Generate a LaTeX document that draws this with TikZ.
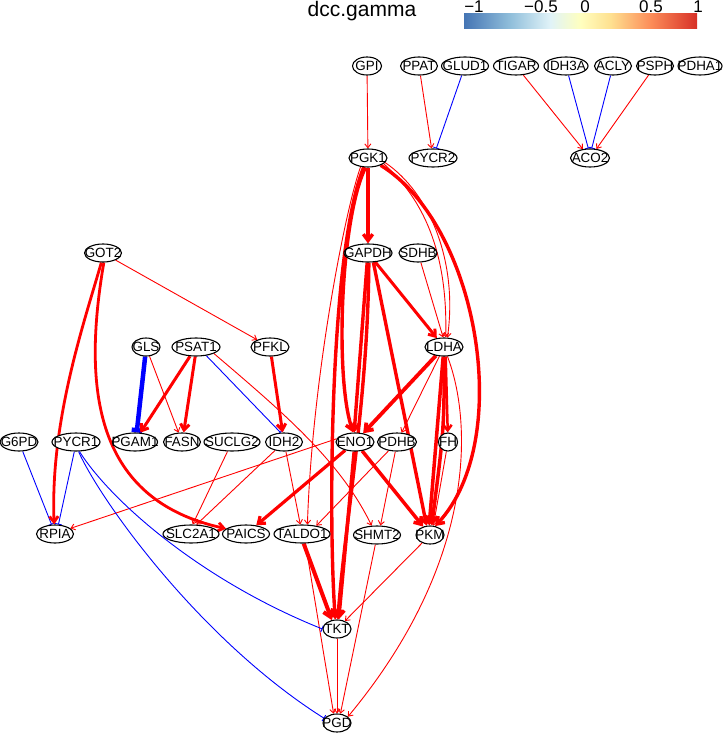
\documentclass[tikz,border=0pt]{standalone}
\usepackage{fontspec}
\setmainfont{Liberation Sans}
\usetikzlibrary{shapes.geometric,arrows.meta}
\pgfdeclarelayer{bg}
\pgfsetlayers{bg,main}
\definecolor{cbA}{RGB}{69,117,180}
\definecolor{cbB}{RGB}{145,191,219}
\definecolor{cbC}{RGB}{224,243,248}
\definecolor{cbD}{RGB}{255,255,191}
\definecolor{cbE}{RGB}{254,224,144}
\definecolor{cbF}{RGB}{252,141,89}
\definecolor{cbG}{RGB}{215,48,39}
\pgfdeclarehorizontalshading{cbar}{100bp}{color(0bp)=(cbA); color(25bp)=(cbA); color(35bp)=(cbB); color(43.5bp)=(cbC); color(50bp)=(cbD); color(56.5bp)=(cbE); color(65bp)=(cbF); color(75bp)=(cbG); color(100bp)=(cbG)}
\newcommand\glab[1]{\makebox[0pt]{#1}}
\tikzset{
  gn/.style={ellipse, draw=black, line width=1.1pt, fill=white, inner sep=0pt,
    minimum height=18pt, minimum width=#1, text height=9.6pt, text depth=0pt,
    font=\fontsize{13.4}{15}\selectfont},
  act/.style={red, line width=#1, -{Straight Barb[length=3pt 1.0, width=5pt 1.3]}},
  act/.default=0.9pt,
  inh/.style={blue, line width=#1, -{Bar[width=6pt 1.0]}},
  inh/.default=0.9pt,
  tick/.style={anchor=base, inner sep=0pt, font=\fontsize{17}{20}\selectfont}
}
\begin{document}
\begin{tikzpicture}[x=1pt,y=-1pt]
\useasboundingbox (0,0) rectangle (725,733);
% colour bar
\shade[shading=cbar] (464,14) rectangle (697,29);
\node[anchor=base, inner sep=0pt, font=\fontsize{21}{24}\selectfont] (title) at (362,17) {dcc.gamma};
\node[tick] (t1) at (474,13) {−1};
\node[tick] (t2) at (541,13) {−0.5};
\node[tick] (t3) at (585,13) {0};
\node[tick] (t4) at (651,13) {0.5};
\node[tick] (t5) at (698,13) {1};
% nodes
\node[gn=29pt] (GPI) at (367,66) {\glab{GPI}};
\node[gn=37pt] (PPAT) at (419,66) {\glab{PPAT}};
\node[gn=47pt] (GLUD1) at (465,66) {\glab{GLUD1}};
\node[gn=45pt] (TIGAR) at (516,66) {\glab{TIGAR}};
\node[gn=44pt] (IDH3A) at (566,66) {\glab{IDH3A}};
\node[gn=37pt] (ACLY) at (613,66) {\glab{ACLY}};
\node[gn=37pt] (PSPH) at (655,66) {\glab{PSPH}};
\node[gn=44pt] (PDHA1) at (700,66) {\glab{PDHA1}};
\node[gn=38pt] (PGK1) at (368,158) {\glab{PGK1}};
\node[gn=48pt] (PYCR2) at (433,158) {\glab{PYCR2}};
\node[gn=39pt] (ACO2) at (590,158) {\glab{ACO2}};
\node[gn=37pt] (GOT2) at (103,253) {\glab{GOT2}};
\node[gn=48pt] (GAPDH) at (368,253) {\glab{GAPDH}};
\node[gn=38pt] (SDHB) at (418,253) {\glab{SDHB}};
\node[gn=28pt] (GLS) at (146,347) {\glab{GLS}};
\node[gn=48pt] (PSAT1) at (196,347) {\glab{PSAT1}};
\node[gn=38pt] (PFKL) at (270,347) {\glab{PFKL}};
\node[gn=38pt] (LDHA) at (444,347) {\glab{LDHA}};
\node[gn=38pt] (G6PD) at (19,442) {\glab{G6PD}};
\node[gn=48pt] (PYCR1) at (76,442) {\glab{PYCR1}};
\node[gn=45pt] (PGAM1) at (135,442) {\glab{PGAM1}};
\node[gn=37pt] (FASN) at (182,442) {\glab{FASN}};
\node[gn=56pt] (SUCLG2) at (232,442) {\glab{SUCLG2}};
\node[gn=37pt] (IDH2) at (284,442) {\glab{IDH2}};
\node[gn=38pt] (ENO1) at (355,442) {\glab{ENO1}};
\node[gn=39pt] (PDHB) at (397,442) {\glab{PDHB}};
\node[gn=19pt] (FH) at (448,442) {\glab{FH}};
\node[gn=37pt] (RPIA) at (55,534) {\glab{RPIA}};
\node[gn=56pt] (SLC2A1) at (191,534) {\glab{SLC2A1}};
\node[gn=47pt] (PAICS) at (246,534) {\glab{PAICS}};
\node[gn=56pt] (TALDO1) at (302,534) {\glab{TALDO1}};
\node[gn=47pt] (SHMT2) at (377,535) {\glab{SHMT2}};
\node[gn=28pt] (PKM) at (430,535) {\glab{PKM}};
\node[gn=28pt] (TKT) at (337,629) {\glab{TKT}};
\node[gn=28pt] (PGD) at (337,723) {\glab{PGD}};
% edges
\begin{pgfonlayer}{bg}
\draw[act] (GPI) -- (PGK1);
\draw[act] (PPAT) -- (PYCR2);
\draw[inh] (GLUD1) -- (PYCR2);
\draw[act] (TIGAR) -- (ACO2);
\draw[inh] (IDH3A) -- (ACO2.100);
\draw[inh] (ACLY) -- (ACO2.80);
\draw[act] (PSPH) -- (ACO2);
% PGK1
\draw[act=3.4pt] (PGK1) -- (GAPDH);
\draw[act=3.4pt] (PGK1.-105) .. controls (340,220) and (335,380) .. (ENO1.100);
\draw[act=3.4pt] (PGK1.-115) .. controls (330,250) and (328,520) .. (TKT.100);
\draw[act] (PGK1.-130) .. controls (345,210) and (312,380) .. (TALDO1.60);
\draw[act=3.4pt] (PGK1.-30) .. controls (478,225) and (515,440) .. (PKM.60);
\draw[act] (PGK1.-20) .. controls (422,198) and (448,250) .. (LDHA.80);
\draw[act] (PGK1.-15) .. controls (430,193) and (458,262) .. (LDHA.70);
% GAPDH
\draw[act=3pt] (GAPDH) -- (LDHA);
\draw[act=3.4pt] (GAPDH.-95) -- (ENO1.95);
\draw[act=3.4pt] (GAPDH.-85) .. controls (368,400) and (345,520) .. (TKT.85);
\draw[act=3.4pt] (GAPDH.-60) -- (PKM.110);
\draw[act] (SDHB) -- (LDHA.95);
% LDHA
\draw[act=3.8pt] (LDHA) -- (ENO1);
\draw[act] (LDHA) -- (PDHB);
\draw[act=2.5pt] (LDHA.-80) -- (FH);
\draw[act=3.5pt] (LDHA.-95) -- (PKM.95);
\draw[act=3.5pt] (LDHA.-88) .. controls (444,430) .. (PKM.80);
\draw[act] (LDHA.-70) .. controls (472,420) and (478,560) .. (PGD.30);
\draw[act] (FH) -- (PKM.70);
% ENO1
\draw[act=3.5pt] (ENO1) -- (PKM);
\draw[act=3.2pt] (ENO1) -- (PAICS);
\draw[act] (ENO1.170) -- (RPIA.20);
\draw[act=3.5pt] (ENO1.-95) -- (TKT.80);
% PDHB
\draw[act] (PDHB) -- (TALDO1.30);
\draw[act] (PDHB.-100) -- (SHMT2.70);
% lower
\draw[act] (PKM) -- (TKT);
\draw[act] (SHMT2.-100) -- (PGD.70);
\draw[act=4pt] (TALDO1.-80) -- (TKT.120);
\draw[act] (TALDO1.-70) -- (PGD.110);
\draw[act] (TKT) -- (PGD);
% PYCR1 / G6PD
\draw[inh] (PYCR1.-100) -- (RPIA.70);
\draw[inh] (G6PD) -- (RPIA.110);
\draw[inh] (PYCR1.-70) .. controls (110,500) and (200,580) .. (TKT.180);
\draw[inh] (PYCR1.-75) .. controls (100,500) and (200,640) .. (PGD.160);
% GOT2
\draw[act] (GOT2) -- (PFKL);
\draw[act=2.8pt] (GOT2.-100) .. controls (85,320) and (50,420) .. (RPIA.95);
\draw[act=2.8pt] (GOT2.-85) .. controls (82,390) and (95,500) .. (PAICS.165);
% GLS / PSAT1 / PFKL
\draw[inh=4.5pt] (GLS.-95) -- (PGAM1.80);
\draw[act] (GLS) -- (FASN.110);
\draw[act=3pt] (PSAT1) -- (PGAM1.60);
\draw[act=3pt] (PSAT1.-95) -- (FASN.80);
\draw[inh] (PSAT1.-40) -- (IDH2.110);
\draw[act] (PSAT1.-20) .. controls (280,410) and (340,460) .. (SHMT2.120);
\draw[act=3pt] (PFKL) -- (IDH2);
\draw[act] (SUCLG2) -- (SLC2A1.80);
\draw[act] (IDH2) -- (SLC2A1.60);
\draw[act] (IDH2) -- (TALDO1.100);
\end{pgfonlayer}
\end{tikzpicture}
\end{document}
